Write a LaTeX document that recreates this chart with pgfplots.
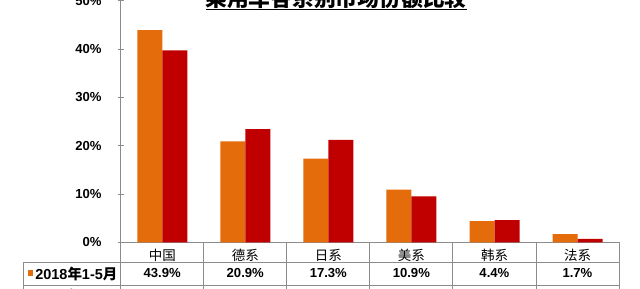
\documentclass[border=0pt]{standalone}
\usepackage{fontspec}
\setmainfont{Liberation Sans}
\newfontfamily\cjk{Noto Sans CJK SC}
\usepackage{pgfplots}
\pgfplotsset{compat=1.18}
\definecolor{sorange}{HTML}{E46C0A}
\definecolor{sred}{HTML}{C00000}
\definecolor{gridc}{HTML}{8C8C8C}
\begin{document}
\begin{tikzpicture}[x=0.025cm,y=0.025cm]
\useasboundingbox (0,0) rectangle (640,289);
\clip (0,0) rectangle (640,289);
\begin{axis}[
  at={(3.0175cm,1.1675cm)}, anchor=south west,
  width=12.4575cm, height=6.04cm, scale only axis,
  xmin=-0.5, xmax=5.5, ymin=0, ymax=50, enlargelimits=false,
  ybar=0pt, bar width=0.625cm,
  axis x line=bottom, axis y line=left,
  axis line style={gridc,-,line width=0.6pt},
  xtick={0,...,5},
  xticklabels={中国,德系,日系,美系,韩系,法系},
  x tick style={draw=none},
  xticklabel style={font=\cjk\fontsize{9.6}{10}\selectfont, anchor=center, yshift=-0.26cm},
  ytick={0,10,...,50},
  yticklabel={\pgfmathprintnumber{\tick}\%},
  yticklabel style={font=\bfseries\fontsize{9.3}{10}\selectfont, anchor=east, xshift=-0.28cm},
  y tick style={gridc,line width=0.6pt},
  major tick length=0.15cm, tick align=center,
  /pgf/number format/assume math mode=true,
  clip=false,
]
\addplot[fill=sorange, draw=none] coordinates {(0,43.9) (1,20.9) (2,17.3) (3,10.9) (4,4.4) (5,1.7)};
\addplot[fill=sred, draw=none] coordinates {(0,39.7) (1,23.4) (2,21.2) (3,9.5) (4,4.6) (5,0.7)};
\end{axis}
% table lines
\begin{scope}[gridc, line width=0.6pt]
\draw (120.7,289) -- (120.7,-20);
\foreach \k in {1,...,6} \draw ({120.7+83.05*\k},{289-242.3}) -- ({120.7+83.05*\k},-20);
\draw (23,{289-262.7}) -- (619,{289-262.7});
\draw (23,{289-285}) -- (619,{289-285});
\draw (23,{289-262.7}) -- (23,-20);
\end{scope}
% data rows
\fill[sorange] (27.7,{289-275.7}) rectangle (33.3,{289-270});
\node[anchor=west, font=\bfseries\fontsize{10.3}{11}\selectfont, inner sep=0] at (35,{289-273.5}) {2018{\cjk\bfseries 年}1-5{\cjk\bfseries 月}};
\foreach \v [count=\i from 0] in {43.9,20.9,17.3,10.9,4.4,1.7}
  \node[font=\bfseries\fontsize{9.3}{10}\selectfont] at ({162.2+83.05*\i},{289-273.5}) {\v\%};
\fill[sred] (27.7,{289-298.2}) rectangle (33.3,{289-292.5});
\node[anchor=west, font=\bfseries\fontsize{10.3}{11}\selectfont, inner sep=0] at (35,{289-296}) {2017{\cjk\bfseries 年}1-5{\cjk\bfseries 月}};
\foreach \v [count=\i from 0] in {39.7,23.4,21.2,9.5,4.6,0.7}
  \node[font=\bfseries\fontsize{9.3}{10}\selectfont] at ({162.2+83.05*\i},{289-296}) {\v\%};
% title
\node[anchor=base, font=\cjk\bfseries\fontsize{15.5}{16}\selectfont, inner sep=0] at (336,{289-6.5}) {乘用车各系别市场份额比较};
\draw[black, line width=0.8pt] (206,{289-9.3}) -- (467,{289-9.3});
\end{tikzpicture}
\end{document}
